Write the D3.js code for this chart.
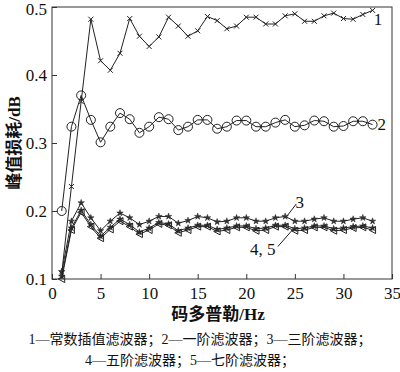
<!DOCTYPE html>
<html>
<head>
    <meta http-equiv="Content-Type" content="text/html;charset=utf8" />
    <title>Peak loss vs code doppler</title>
    <script src="https://d3js.org/d3.v7.min.js"></script>
    <style>
        body { margin: 0; background: #fff; }
        svg text { font-family: "Liberation Serif", "Noto Sans CJK SC", serif; fill: #111; }
    </style>
</head>
<body>
<div id="chart"></div>
<script>
    // doppler (Hz) on x, one point per Hz
    var doppler = d3.range(1, 34);

    var s1 = [0.108, 0.236, 0.361, 0.482, 0.421, 0.407, 0.432, 0.483, 0.457, 0.442, 0.456,
              0.485, 0.472, 0.457, 0.465, 0.486, 0.480, 0.468, 0.472, 0.485, 0.485, 0.475,
              0.475, 0.487, 0.490, 0.479, 0.479, 0.487, 0.491, 0.483, 0.482, 0.489, 0.495];
    var s2 = [0.200, 0.324, 0.370, 0.334, 0.301, 0.324, 0.344, 0.335, 0.315, 0.324, 0.338,
              0.335, 0.319, 0.324, 0.334, 0.334, 0.321, 0.324, 0.333, 0.333, 0.324, 0.324,
              0.330, 0.334, 0.324, 0.326, 0.333, 0.332, 0.324, 0.325, 0.332, 0.332, 0.327];
    var s3 = [0.111, 0.185, 0.212, 0.190, 0.171, 0.185, 0.197, 0.190, 0.180, 0.185, 0.192,
              0.192, 0.182, 0.186, 0.192, 0.190, 0.184, 0.185, 0.190, 0.190, 0.185, 0.185,
              0.190, 0.192, 0.185, 0.185, 0.188, 0.190, 0.185, 0.185, 0.188, 0.190, 0.185];
    var s4 = [0.104, 0.175, 0.201, 0.180, 0.163, 0.176, 0.188, 0.180, 0.169, 0.175, 0.183,
              0.181, 0.171, 0.175, 0.179, 0.179, 0.173, 0.175, 0.178, 0.178, 0.174, 0.175,
              0.179, 0.179, 0.174, 0.175, 0.178, 0.178, 0.174, 0.175, 0.177, 0.178, 0.175];
    var s5 = [0.100, 0.172, 0.198, 0.177, 0.160, 0.173, 0.185, 0.177, 0.166, 0.172, 0.181,
              0.179, 0.168, 0.172, 0.177, 0.177, 0.170, 0.172, 0.176, 0.176, 0.171, 0.172,
              0.177, 0.177, 0.171, 0.172, 0.176, 0.176, 0.171, 0.172, 0.175, 0.176, 0.172];

    var xTicks = [0, 5, 10, 15, 20, 25, 30, 35];
    var yTicks = [0.1, 0.2, 0.3, 0.4, 0.5];

    var xTitle = "码多普勒/Hz";
    var yTitle = "峰值损耗/dB";
    var caption = ["1—常数插值滤波器；2—一阶滤波器；3—三阶滤波器；",
                   "4—五阶滤波器；5—七阶滤波器；"];

    // curve number labels in data units, with leader lines
    var tags = [
        {t: "1", x: 33.55, y: 0.482},
        {t: "2", x: 33.95, y: 0.328},
        {t: "3", x: 25.5, y: 0.2135, lx1: 25.15, ly1: 0.2105, lx2: 24.07, ly2: 0.1903},
        {t: "4, 5", x: 21.7, y: 0.1443, lx1: 23.25, ly1: 0.1477, lx2: 24.76, ly2: 0.1723}
    ];

    var W = 400, H = 372;
    var m = {top: 7, right: 8, bottom: 93, left: 52};
    var w = W - m.left - m.right, h = H - m.top - m.bottom;

    var svg = d3.select("#chart").append("svg").attr("width", W).attr("height", H);
    var g = svg.append("g").attr("transform", "translate(" + m.left + "," + m.top + ")");

    var x = d3.scaleLinear().domain([0, 35]).range([0, w]);
    var y = d3.scaleLinear().domain([0.1, 0.5]).range([h, 0]);

    // axes, ticks pointing inward
    var xAxis = g.append("g").attr("transform", "translate(0," + h + ")")
        .call(d3.axisBottom(x).tickValues(xTicks).tickSizeInner(-5).tickSizeOuter(0).tickPadding(8));
    var yAxis = g.append("g")
        .call(d3.axisLeft(y).tickValues(yTicks).tickFormat(d3.format(".1f")).tickSizeInner(-5).tickSizeOuter(0).tickPadding(5));
    [xAxis, yAxis].forEach(function(a) {
        a.select(".domain").remove();
        a.selectAll("line").attr("stroke", "#333");
        a.selectAll("text").attr("font-size", 17).attr("fill", "#111")
            .style("font-family", "'Liberation Serif', serif");
    });
    // keep the top label inside the page
    yAxis.selectAll("text").filter(function(d) { return d == 0.5; }).attr("dy", "0.42em");

    g.append("rect").attr("width", w).attr("height", h)
        .attr("fill", "none").attr("stroke", "#333").attr("stroke-width", 1);

    var line = d3.line().x(function(d) { return x(d[0]); }).y(function(d) { return y(d[1]); });

    var series = [
        {v: s1, mark: "cross"},
        {v: s2, mark: "circle"},
        {v: s3, mark: "star"},
        {v: s4, mark: "star"},
        {v: s5, mark: "tri"}
    ];

    series.forEach(function(s) {
        var pts = doppler.map(function(d, i) { return [d, s.v[i]]; });
        g.append("path").datum(pts).attr("d", line)
            .attr("fill", "none").attr("stroke", "#222").attr("stroke-width", 1);

        var mk = g.append("g").selectAll("g").data(pts).enter().append("g")
            .attr("transform", function(d) { return "translate(" + x(d[0]) + "," + y(d[1]) + ")"; });

        if (s.mark == "circle") {
            mk.append("circle").attr("r", 4.5).attr("fill", "none").attr("stroke", "#222").attr("stroke-width", 1);
        } else if (s.mark == "cross") {
            mk.append("path").attr("d", "M-2.5,-2.5L2.5,2.5M-2.5,2.5L2.5,-2.5")
                .attr("stroke", "#222").attr("stroke-width", 1);
        } else if (s.mark == "star") {
            mk.append("path").attr("d", d3.symbol(d3.symbolStar, 13))
                .attr("fill", "#333").attr("stroke", "#222").attr("stroke-width", 0.5);
        } else {
            mk.append("path").attr("d", "M-3.5,0L3,-3.5L3,3.5Z")
                .attr("fill", "none").attr("stroke", "#222").attr("stroke-width", 1);
        }
    });

    // curve tags
    tags.forEach(function(t) {
        g.append("text").attr("x", x(t.x)).attr("y", y(t.y)).attr("dy", "0.35em")
            .attr("text-anchor", "middle").attr("font-size", 17).text(t.t);
        if (t.lx1 != null) {
            g.append("line").attr("x1", x(t.lx1)).attr("y1", y(t.ly1))
                .attr("x2", x(t.lx2)).attr("y2", y(t.ly2))
                .attr("stroke", "#222").attr("stroke-width", 1);
        }
    });

    svg.append("text").attr("x", m.left + w / 2 - 4).attr("y", 320)
        .attr("text-anchor", "middle").attr("font-size", 17).attr("font-weight", "bold")
        .text(xTitle);

    svg.append("text").attr("transform", "translate(20," + (m.top + h / 2) + ") rotate(-90)")
        .attr("text-anchor", "middle").attr("font-size", 17).attr("font-weight", "bold")
        .text(yTitle);

    svg.append("text").attr("x", 200).attr("y", 344)
        .attr("text-anchor", "middle").attr("font-size", 14).text(caption[0]);
    svg.append("text").attr("x", 190).attr("y", 365)
        .attr("text-anchor", "middle").attr("font-size", 14).text(caption[1]);
</script>
</body>
</html>
